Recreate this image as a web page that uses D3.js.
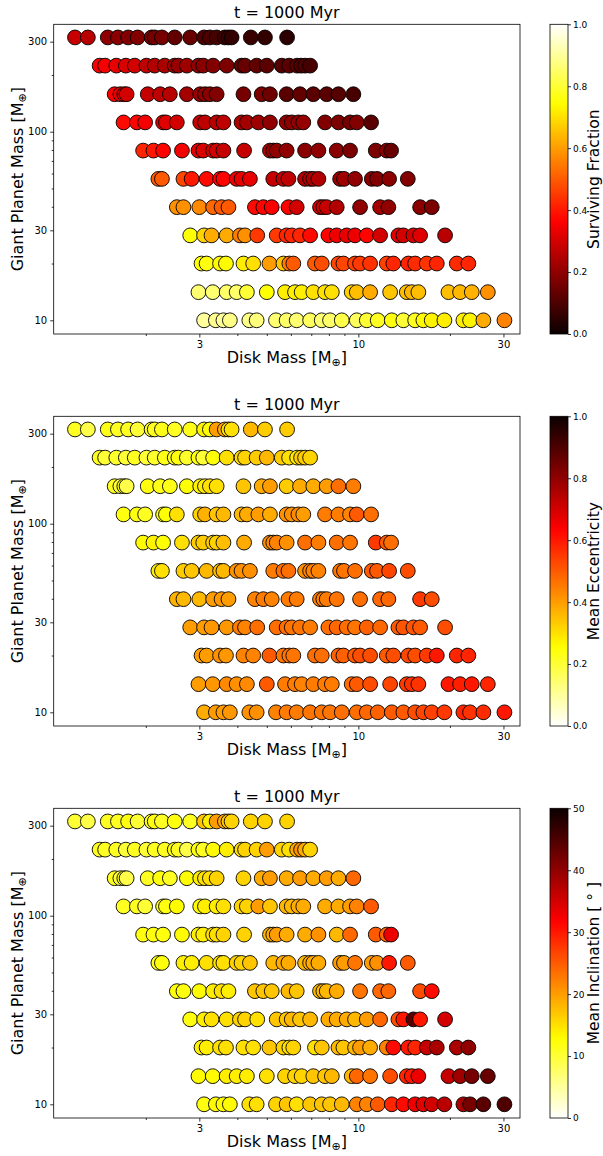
<!DOCTYPE html>
<html>
<head>
<meta charset="utf-8">
<script src="https://cdn.jsdelivr.net/npm/d3@7"></script>
<style>
  body { margin: 0; background: #fff; }
  svg { font-family: "DejaVu Sans", sans-serif; }
</style>
</head>
<body>
<svg id="fig" width="603" height="1156"></svg>
<script>
// giant planet mass of each row (bottom to top)
const planetMass = [10, 14.1, 20, 28.2, 39.8, 56.2, 79.4, 112, 158, 224, 316];

// disk mass of each simulation, one list per row
const diskMass = [
  [3.11, 3.40, 3.60, 3.78, 4.38, 4.63, 5.36, 5.81, 6.27, 6.94, 7.58, 8.07, 8.82, 9.88, 10.66, 11.58, 12.88, 14.06, 15.37, 16.36, 17.43, 19.18, 22.15, 23.30, 25.77, 30.22],
  [2.98, 3.32, 3.69, 3.98, 4.30, 5.00, 5.74, 6.19, 6.51, 7.11, 7.77, 8.18, 9.51, 9.88, 10.93, 12.72, 14.43, 14.99, 15.75, 19.78, 21.60, 23.60, 26.65],
  [3.05, 3.17, 3.51, 3.67, 4.19, 4.51, 5.10, 5.67, 5.93, 6.11, 7.20, 7.58, 8.60, 8.93, 9.75, 10.13, 10.93, 12.40, 13.03, 14.60, 15.37, 16.79, 18.11, 21.07, 23.00],
  [2.80, 3.11, 3.29, 3.69, 4.08, 4.24, 4.65, 5.39, 5.81, 6.04, 6.43, 6.94, 7.97, 8.49, 9.16, 9.75, 10.66, 11.79, 13.54, 14.06, 15.17, 15.96, 19.28],
  [2.53, 2.66, 3.00, 3.33, 3.55, 3.74, 4.57, 4.87, 5.19, 5.89, 6.27, 7.48, 7.67, 7.87, 8.49, 10.13, 11.79, 12.55, 15.96, 17.43],
  [2.20, 2.26, 2.66, 2.83, 3.17, 3.51, 3.60, 3.98, 4.13, 4.40, 5.25, 5.67, 5.89, 6.68, 6.94, 7.11, 7.39, 8.71, 8.97, 9.75, 11.07, 11.52, 12.62, 14.54],
  [1.96, 2.12, 2.28, 2.63, 2.98, 3.09, 3.33, 3.42, 3.60, 4.21, 5.12, 5.25, 5.39, 5.81, 6.68, 7.39, 8.49, 9.39, 11.41, 12.40, 12.81],
  [1.69, 1.87, 1.99, 2.28, 2.33, 2.53, 3.02, 3.13, 3.42, 3.60, 4.13, 4.30, 4.69, 5.12, 5.81, 6.04, 6.35, 6.59, 7.77, 8.60, 9.39, 9.88, 11.01],
  [1.58, 1.65, 1.70, 1.73, 2.03, 2.23, 2.40, 2.73, 3.02, 3.13, 3.25, 3.42, 4.19, 4.81, 5.12, 5.81, 6.43, 7.11, 7.87, 8.60, 9.63],
  [1.41, 1.47, 1.60, 1.72, 1.84, 2.01, 2.14, 2.31, 2.49, 2.56, 2.73, 2.98, 3.09, 3.33, 3.69, 4.13, 4.24, 4.63, 5.00, 5.60, 5.92, 6.29, 6.48, 6.68, 6.94],
  [1.17, 1.29, 1.50, 1.62, 1.75, 1.88, 2.09, 2.14, 2.26, 2.49, 2.80, 3.11, 3.25, 3.42, 3.64, 3.74, 3.83, 4.43, 4.93, 5.83]
];

const survFrac = [
  [0.9, 0.89, 0.9, 0.88, 0.88, 0.87, 0.86, 0.85, 0.86, 0.84, 0.86, 0.85, 0.82, 0.84, 0.8, 0.78, 0.76, 0.8, 0.78, 0.74, 0.73, 0.72, 0.72, 0.73, 0.62, 0.56],
  [0.86, 0.86, 0.85, 0.85, 0.8, 0.75, 0.72, 0.72, 0.72, 0.7, 0.7, 0.7, 0.68, 0.65, 0.62, 0.66, 0.65, 0.64, 0.65, 0.65, 0.64, 0.63, 0.58],
  [0.75, 0.76, 0.74, 0.74, 0.72, 0.7, 0.6, 0.66, 0.55, 0.5, 0.5, 0.48, 0.47, 0.47, 0.46, 0.45, 0.44, 0.46, 0.42, 0.42, 0.43, 0.44, 0.42, 0.43, 0.42],
  [0.75, 0.68, 0.62, 0.62, 0.55, 0.58, 0.45, 0.45, 0.42, 0.42, 0.42, 0.38, 0.37, 0.34, 0.33, 0.34, 0.37, 0.3, 0.32, 0.3, 0.3, 0.32, 0.26],
  [0.58, 0.58, 0.57, 0.52, 0.5, 0.5, 0.38, 0.37, 0.36, 0.36, 0.3, 0.3, 0.29, 0.28, 0.25, 0.2, 0.23, 0.2, 0.19, 0.17],
  [0.5, 0.5, 0.47, 0.4, 0.38, 0.37, 0.37, 0.34, 0.33, 0.33, 0.28, 0.27, 0.27, 0.25, 0.25, 0.24, 0.25, 0.22, 0.22, 0.2, 0.19, 0.18, 0.19, 0.18],
  [0.42, 0.4, 0.37, 0.35, 0.32, 0.31, 0.3, 0.3, 0.28, 0.28, 0.25, 0.22, 0.2, 0.2, 0.19, 0.2, 0.19, 0.17, 0.17, 0.19, 0.14],
  [0.38, 0.37, 0.35, 0.33, 0.32, 0.3, 0.28, 0.27, 0.26, 0.27, 0.24, 0.23, 0.22, 0.2, 0.2, 0.2, 0.2, 0.21, 0.18, 0.17, 0.16, 0.18, 0.12],
  [0.36, 0.33, 0.3, 0.3, 0.28, 0.27, 0.26, 0.23, 0.21, 0.2, 0.19, 0.18, 0.16, 0.17, 0.15, 0.12, 0.13, 0.12, 0.12, 0.11, 0.09],
  [0.36, 0.35, 0.33, 0.31, 0.3, 0.27, 0.25, 0.24, 0.22, 0.21, 0.22, 0.2, 0.19, 0.18, 0.17, 0.13, 0.14, 0.13, 0.12, 0.11, 0.12, 0.12, 0.1, 0.1, 0.09],
  [0.28, 0.26, 0.2, 0.19, 0.18, 0.18, 0.17, 0.16, 0.16, 0.13, 0.14, 0.1, 0.1, 0.09, 0.08, 0.07, 0.06, 0.07, 0.06, 0.05]
];

const meanEcc = [
  [0.38, 0.4, 0.4, 0.41, 0.42, 0.42, 0.44, 0.45, 0.45, 0.46, 0.46, 0.46, 0.47, 0.47, 0.48, 0.49, 0.5, 0.5, 0.52, 0.53, 0.54, 0.55, 0.58, 0.56, 0.57, 0.6],
  [0.4, 0.41, 0.43, 0.42, 0.43, 0.5, 0.45, 0.45, 0.44, 0.45, 0.45, 0.45, 0.47, 0.5, 0.52, 0.53, 0.55, 0.56, 0.56, 0.6, 0.59, 0.6, 0.58],
  [0.4, 0.4, 0.42, 0.41, 0.44, 0.44, 0.5, 0.46, 0.46, 0.46, 0.47, 0.47, 0.49, 0.49, 0.5, 0.52, 0.52, 0.5, 0.52, 0.53, 0.52, 0.55, 0.6, 0.58, 0.58],
  [0.4, 0.4, 0.41, 0.41, 0.45, 0.44, 0.47, 0.47, 0.47, 0.46, 0.46, 0.45, 0.47, 0.48, 0.47, 0.46, 0.49, 0.48, 0.5, 0.51, 0.51, 0.5, 0.52],
  [0.37, 0.36, 0.36, 0.4, 0.41, 0.4, 0.44, 0.45, 0.44, 0.45, 0.45, 0.45, 0.44, 0.45, 0.46, 0.47, 0.48, 0.48, 0.55, 0.52],
  [0.28, 0.3, 0.33, 0.34, 0.36, 0.35, 0.36, 0.42, 0.42, 0.42, 0.45, 0.47, 0.47, 0.42, 0.44, 0.44, 0.44, 0.46, 0.46, 0.47, 0.5, 0.5, 0.53, 0.52],
  [0.26, 0.27, 0.25, 0.3, 0.33, 0.33, 0.33, 0.32, 0.35, 0.38, 0.42, 0.43, 0.44, 0.42, 0.47, 0.45, 0.47, 0.46, 0.55, 0.5, 0.47],
  [0.24, 0.24, 0.22, 0.24, 0.25, 0.3, 0.32, 0.37, 0.34, 0.36, 0.36, 0.38, 0.4, 0.38, 0.42, 0.42, 0.43, 0.4, 0.45, 0.45, 0.44, 0.5, 0.47],
  [0.22, 0.2, 0.22, 0.18, 0.24, 0.23, 0.23, 0.25, 0.27, 0.28, 0.3, 0.3, 0.34, 0.38, 0.4, 0.33, 0.38, 0.38, 0.4, 0.47, 0.45],
  [0.22, 0.2, 0.21, 0.2, 0.22, 0.2, 0.21, 0.23, 0.22, 0.24, 0.21, 0.24, 0.2, 0.25, 0.3, 0.3, 0.32, 0.33, 0.36, 0.33, 0.3, 0.28, 0.33, 0.33, 0.32],
  [0.22, 0.18, 0.23, 0.22, 0.22, 0.2, 0.22, 0.22, 0.23, 0.22, 0.23, 0.27, 0.25, 0.4, 0.38, 0.3, 0.3, 0.36, 0.33, 0.33]
];

const meanIncl = [
  [12, 13, 13, 13, 15, 15, 16, 17, 15, 17, 17, 17, 18, 22, 22, 25, 29, 31, 33, 34, 35, 37, 38, 42, 44, 45],
  [13, 13, 14, 14, 14, 15, 16, 16, 16, 17, 17, 18, 18, 24, 23, 26, 29, 30, 33, 36, 39, 42, 43],
  [14, 14, 15, 15, 15, 15, 17, 16, 15, 16, 15, 17, 18, 17, 18, 20, 19, 22, 31, 30, 29, 36, 38, 38, 40],
  [12, 14, 15, 15, 16, 16, 15, 17, 17, 18, 17, 18, 19, 19, 19, 18, 20, 24, 26, 30, 44, 30, 35],
  [12, 12, 13, 14, 15, 14, 17, 17, 17, 18, 17, 18, 18, 18, 19, 23, 24, 24, 26, 31],
  [12, 12, 14, 14, 15, 15, 15, 16, 16, 17, 18, 19, 19, 18, 19, 19, 19, 20, 20, 23, 20, 21, 30, 25],
  [12, 12, 12, 13, 14, 14, 15, 15, 16, 16, 18, 19, 20, 19, 19, 21, 18, 24, 25, 24, 33],
  [11, 11, 10, 11, 12, 13, 13, 14, 14, 15, 16, 16, 20, 17, 18, 18, 19, 19, 19, 19, 20, 22, 25],
  [11, 10, 11, 9, 11, 12, 11, 13, 14, 15, 15, 16, 16, 19, 20, 19, 20, 19, 20, 19, 24],
  [11, 11, 11, 10, 11, 10, 11, 11, 12, 11, 9, 12, 11, 13, 14, 15, 16, 16, 20, 16, 15, 19, 21, 19, 16],
  [10, 9, 11, 11, 12, 10, 11, 12, 11, 12, 11, 17, 14, 20, 19, 17, 16, 16, 16, 16]
];

const xMajor = [3, 10, 30];
const xMinor = [2, 4, 5, 6, 7, 8, 9, 20];
const yMajor = [10, 30, 100, 300];
const yMinor = [20, 40, 50, 60, 70, 80, 90, 200];

// matplotlib "hot"
function hot(t) {
    t = Math.max(0, Math.min(1, t));
    let r = t < 0.365079 ? 0.0416 + (1 - 0.0416) * t / 0.365079 : 1;
    let g = t < 0.365079 ? 0 : (t < 0.746032 ? (t - 0.365079) / (0.746032 - 0.365079) : 1);
    let b = t < 0.746032 ? 0 : (t - 0.746032) / (1 - 0.746032);
    return d3.rgb(r * 255, g * 255, b * 255).formatHex();
}
const hotR = t => hot(1 - t);

const panels = [
    {vals: survFrac, cmap: hot, dom: [0, 1], ticks: [0, 0.2, 0.4, 0.6, 0.8, 1.0], fmt: d3.format(".1f"), label: "Surviving Fraction"},
    {vals: meanEcc, cmap: hotR, dom: [0, 1], ticks: [0, 0.2, 0.4, 0.6, 0.8, 1.0], fmt: d3.format(".1f"), label: "Mean Eccentricity"},
    {vals: meanIncl, cmap: hotR, dom: [0, 50], ticks: [0, 10, 20, 30, 40, 50], fmt: d3.format("d"), label: "Mean Inclination [ ° ]"}
];

const svg = d3.select("#fig");
const left = 53.7, right = 520, plotH = 309.7;
const tops = [24.3, 416.3, 808.3];
const cbX = 550, cbW = 18;

let x = d3.scaleLog().domain([0.996, 34.0]).range([left, right]);

panels.forEach((p, pi) => {
    let top = tops[pi];
    let y = d3.scaleLog().domain([8.46, 371]).range([top + plotH, top]);
    let g = svg.append("g");

    // points
    let pts = [];
    planetMass.forEach((pm, r) => {
        diskMass[r].forEach((dm, i) => {
            if (p.vals[r][i] !== undefined) pts.push({dm: dm, pm: pm, v: p.vals[r][i]});
        });
    });
    let cnorm = d3.scaleLinear().domain(p.dom).range([0, 1]);
    g.append("g").selectAll("circle")
        .data(pts)
        .join("circle")
        .attr("cx", d => x(d.dm))
        .attr("cy", d => y(d.pm))
        .attr("r", 7.4)
        .attr("fill", d => p.cmap(cnorm(d.v)))
        .attr("stroke", "#000")
        .attr("stroke-width", 0.9);

    // frame
    g.append("rect")
        .attr("x", left).attr("y", top)
        .attr("width", right - left).attr("height", plotH)
        .attr("fill", "none").attr("stroke", "#000").attr("stroke-width", 0.8);

    // axes
    g.append("g").attr("transform", `translate(0,${top + plotH})`)
        .call(d3.axisBottom(x).tickValues(xMajor).tickFormat(d3.format("d")).tickSize(3.5).tickPadding(3));
    g.append("g").attr("transform", `translate(0,${top + plotH})`)
        .call(d3.axisBottom(x).tickValues(xMinor).tickFormat("").tickSize(2));
    g.append("g").attr("transform", `translate(${left},0)`)
        .call(d3.axisLeft(y).tickValues(yMajor).tickFormat(d3.format("d")).tickSize(3.5).tickPadding(3));
    g.append("g").attr("transform", `translate(${left},0)`)
        .call(d3.axisLeft(y).tickValues(yMinor).tickFormat("").tickSize(2));
    g.selectAll(".domain").remove();
    g.selectAll(".tick line").attr("stroke", "#000").attr("stroke-width", 0.8);
    g.selectAll(".tick text").attr("font-size", 10).attr("fill", "#000")
        .attr("font-family", "DejaVu Sans");

    // title and labels
    g.append("text").attr("x", (left + right) / 2).attr("y", top - 6)
        .attr("text-anchor", "middle").attr("font-size", 16).text("t = 1000 Myr");
    let xl = g.append("text").attr("x", (left + right) / 2).attr("y", top + plotH + 29)
        .attr("text-anchor", "middle").attr("font-size", 16);
    xl.append("tspan").text("Disk Mass [M");
    xl.append("tspan").attr("font-size", 11).attr("dy", 3).text("⊕");
    xl.append("tspan").attr("dy", -3).text("]");
    let yl = g.append("text")
        .attr("transform", `translate(23,${top + plotH / 2}) rotate(-90)`)
        .attr("text-anchor", "middle").attr("font-size", 16);
    yl.append("tspan").text("Giant Planet Mass [M");
    yl.append("tspan").attr("font-size", 11).attr("dy", 3).text("⊕");
    yl.append("tspan").attr("dy", -3).text("]");

    // colorbar
    let gid = "cb" + pi;
    let grad = svg.append("defs").append("linearGradient").attr("id", gid)
        .attr("x1", 0).attr("y1", 1).attr("x2", 0).attr("y2", 0);
    d3.range(0, 1.0001, 0.02).forEach(t => {
        grad.append("stop").attr("offset", t).attr("stop-color", p.cmap(t));
    });
    g.append("rect").attr("x", cbX).attr("y", top).attr("width", cbW).attr("height", plotH)
        .attr("fill", `url(#${gid})`).attr("stroke", "#000").attr("stroke-width", 0.8);
    let cs = d3.scaleLinear().domain(p.dom).range([top + plotH, top]);
    let ca = g.append("g").attr("transform", `translate(${cbX + cbW},0)`)
        .call(d3.axisRight(cs).tickValues(p.ticks).tickFormat(p.fmt).tickSize(3).tickPadding(2));
    ca.select(".domain").remove();
    ca.selectAll(".tick line").attr("stroke", "#000").attr("stroke-width", 0.8);
    ca.selectAll(".tick text").attr("font-size", 9).attr("fill", "#000")
        .attr("font-family", "DejaVu Sans");
    g.append("text")
        .attr("transform", `translate(599,${top + plotH / 2}) rotate(-90)`)
        .attr("text-anchor", "middle").attr("font-size", 15.5).text(p.label);
});
</script>
</body>
</html>
